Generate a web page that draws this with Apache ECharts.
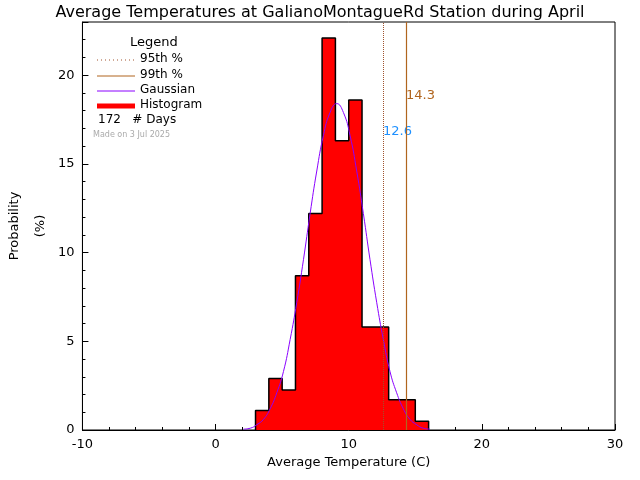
<!DOCTYPE html>
<html><head><meta charset="utf-8">
<script src="https://cdn.jsdelivr.net/npm/echarts@6/dist/echarts.min.js"></script>
<style>html,body{margin:0;background:#fff}#c{width:640px;height:480px}</style>
</head><body><div id="c"></div>
<script>
const binEdges = [3,4,5,6,7,8,9,10,11,12,13,14,15,16];
const binValues = [1.1,2.9,2.25,8.7,12.2,22.1,16.3,18.6,5.8,5.8,1.7,1.7,0.5];
const gaussX = [2.1,2.6,3.1,3.6,4.1,4.6,5.1,5.6,6.1,6.6,7.1,7.6,8.1,8.6,9.1,9.6,10.1,10.6,11.1,11.6,12.1,12.6,13.1,13.6,14.1,14.6,15.1,15.6,16.1];
const gaussY = [0.05,0.1,0.3,0.6,1.2,2.1,3.3,5.1,7.2,9.6,12.2,14.6,16.6,17.9,18.4,17.9,16.6,14.6,12.2,9.6,7.2,5.1,3.3,2.1,1.2,0.6,0.3,0.1,0.05];
const p95 = 12.6, p99 = 14.3;
const nDays = 172;
const xTicks = [-10,0,10,20,30];

const hist = [[binEdges[0],0]];
binValues.forEach((v,i)=>hist.push([binEdges[i],v]));
hist.push([binEdges[binEdges.length-1],binValues[binValues.length-1]]);
hist.push([binEdges[binEdges.length-1],0]);

const ch = echarts.init(document.getElementById('c'));
const tf = 'DejaVu Sans';
ch.setOption({
  animation:false,
  textStyle:{fontFamily:tf},
  title:{text:'Average Temperatures at GalianoMontagueRd Station during April',left:'center',top:0,
    textStyle:{fontSize:16,fontWeight:'normal',color:'#000',fontFamily:tf}},
  grid:{left:80,right:25,top:22,bottom:50,show:true,borderColor:'#000',borderWidth:1},
  xAxis:{type:'value',min:xTicks[0],max:xTicks[xTicks.length-1],interval:10,name:'Average Temperature (C)',nameLocation:'middle',nameGap:24,
    nameTextStyle:{fontSize:13,color:'#000'},
    axisLine:{onZero:false,lineStyle:{color:'#000'}},axisTick:{inside:true,length:6,lineStyle:{color:'#000'}},
    minorTick:{show:true,splitNumber:5,length:3,lineStyle:{color:'#000'}},
    axisLabel:{color:'#000',fontSize:13},splitLine:{show:false}},
  yAxis:{type:'value',min:0,max:23,interval:5,name:'Probability\n\n(%)',nameLocation:'middle',nameGap:32,nameRotate:90,
    nameTextStyle:{fontSize:13,color:'#000'},
    axisLine:{onZero:false,lineStyle:{color:'#000'}},axisTick:{inside:true,length:6,lineStyle:{color:'#000'}},
    minorTick:{show:true,splitNumber:5,length:3,lineStyle:{color:'#000'}},
    axisLabel:{color:'#000',fontSize:13,showMaxLabel:false},splitLine:{show:false}},
  series:[
    {type:'line',step:'end',data:hist,symbol:'none',lineStyle:{color:'#000',width:1.5},areaStyle:{color:'#ff0000',opacity:1},z:2},
    {type:'line',data:gaussX.map((x,i)=>[x,gaussY[i]]),smooth:true,symbol:'none',lineStyle:{color:'#8a00ff',width:1},z:3},
    {type:'line',data:[],markLine:{symbol:'none',silent:true,label:{show:false},data:[
      [{coord:[p95,0],lineStyle:{color:'#a0522d',type:'dotted',width:1}},{coord:[p95,23]}],
      [{coord:[p99,0],lineStyle:{color:'#b0651e',type:'solid',width:1.2}},{coord:[p99,23]}]
    ]}}
  ],
  graphic:[
    {type:'text',left:383,top:125,style:{text:String(p95),fill:'#1e90ff',font:'13px DejaVu Sans'}},
    {type:'text',left:406,top:89,style:{text:String(p99),fill:'#b0651e',font:'13px DejaVu Sans'}},
    {type:'text',left:130,top:36,style:{text:'Legend',fill:'#000',font:'13px DejaVu Sans'}},
    {type:'line',shape:{x1:97,y1:60,x2:135,y2:60},style:{stroke:'#a0522d',lineDash:[1,3],lineWidth:1}},
    {type:'text',left:140,top:53,style:{text:'95th %',fill:'#000',font:'12px DejaVu Sans'}},
    {type:'line',shape:{x1:97,y1:76,x2:135,y2:76},style:{stroke:'#b0651e',lineWidth:1}},
    {type:'text',left:140,top:69,style:{text:'99th %',fill:'#000',font:'12px DejaVu Sans'}},
    {type:'line',shape:{x1:97,y1:91,x2:135,y2:91},style:{stroke:'#8a00ff',lineWidth:1}},
    {type:'text',left:140,top:84,style:{text:'Gaussian',fill:'#000',font:'12px DejaVu Sans'}},
    {type:'line',shape:{x1:97,y1:106,x2:135,y2:106},style:{stroke:'#ff0000',lineWidth:5}},
    {type:'text',left:140,top:99,style:{text:'Histogram',fill:'#000',font:'12px DejaVu Sans'}},
    {type:'text',left:98,top:114,style:{text:String(nDays)+'   # Days',fill:'#000',font:'12px DejaVu Sans'}},
    {type:'text',left:93,top:131,style:{text:'Made on 3 Jul 2025',fill:'#aaaaaa',font:'8px DejaVu Sans'}}
  ]
});
</script></body></html>
